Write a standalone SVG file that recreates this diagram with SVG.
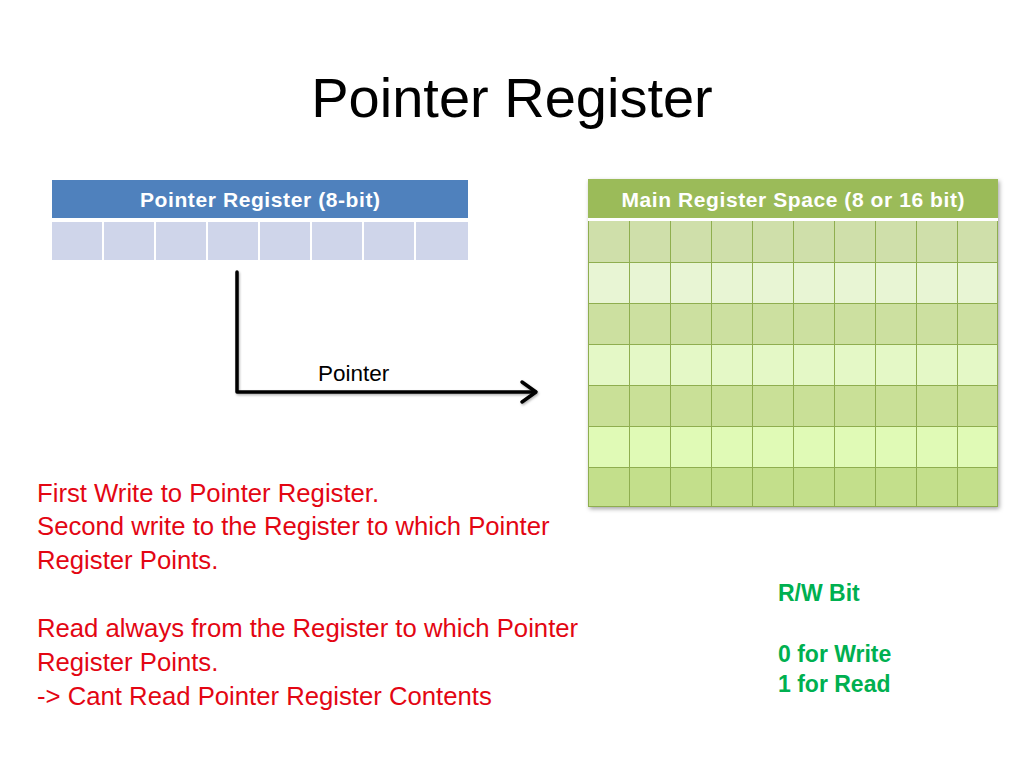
<svg xmlns="http://www.w3.org/2000/svg" width="1024" height="768" viewBox="0 0 1024 768">
<defs>
<style>
.title{font-family:"Liberation Sans",Arial,sans-serif;font-size:56px;fill:#000}
.hdr{font-family:"Liberation Sans",Arial,sans-serif;font-size:21px;font-weight:bold;fill:#fff}
.red{font-family:"Liberation Sans",Arial,sans-serif;font-size:25.7px;fill:#e30613}
.grn{font-family:"Liberation Sans",Arial,sans-serif;font-size:23px;font-weight:bold;fill:#00b050}
.lbl{font-family:"Liberation Sans",Arial,sans-serif;font-size:22.5px;fill:#000}
.pc{fill:#cfd5ea}
.grid{stroke:#8fae4f;stroke-width:1;fill:none}
.conn{stroke:#000;stroke-width:3.5;fill:none;stroke-linecap:round;stroke-linejoin:round}
</style>
<filter id="sh" x="-5%" y="-5%" width="110%" height="110%">
<feDropShadow dx="1.5" dy="2" stdDeviation="2" flood-color="#000" flood-opacity="0.35"/>
</filter>
<filter id="ash" x="-10%" y="-10%" width="120%" height="130%">
<feDropShadow dx="1" dy="1.5" stdDeviation="1" flood-color="#000" flood-opacity="0.3"/>
</filter>
</defs>
<rect width="1024" height="768" fill="#fff"/>
<text class="title" x="512" y="117" text-anchor="middle">Pointer Register</text>

<g id="pointer-register">
<rect x="52" y="180" width="416" height="38" fill="#4f81bd"/>
<text class="hdr" x="260" y="207" text-anchor="middle" textLength="240" lengthAdjust="spacing">Pointer Register (8-bit)</text>
<rect class="pc" x="52" y="222" width="50" height="38"/>
<rect class="pc" x="104" y="222" width="50" height="38"/>
<rect class="pc" x="156" y="222" width="50" height="38"/>
<rect class="pc" x="208" y="222" width="50" height="38"/>
<rect class="pc" x="260" y="222" width="50" height="38"/>
<rect class="pc" x="312" y="222" width="50" height="38"/>
<rect class="pc" x="364" y="222" width="50" height="38"/>
<rect class="pc" x="416" y="222" width="52" height="38"/>
</g>

<g id="main-register-space">
<g filter="url(#sh)">
<rect x="588" y="179" width="410" height="328" fill="#fff"/>
</g>
<rect x="588" y="179" width="410" height="39" fill="#9bbb59"/>
<text class="hdr" x="793" y="207" text-anchor="middle" textLength="343" lengthAdjust="spacing">Main Register Space (8 or 16 bit)</text>
<rect x="588" y="221" width="410" height="41" fill="#cfdfaa"/>
<rect x="588" y="262" width="410" height="41" fill="#e8f5d4"/>
<rect x="588" y="303" width="410" height="41" fill="#cce0a0"/>
<rect x="588" y="344" width="410" height="41" fill="#e4f8c6"/>
<rect x="588" y="385" width="410" height="41" fill="#c9e097"/>
<rect x="588" y="426" width="410" height="41" fill="#e0fab6"/>
<rect x="588" y="467" width="410" height="40" fill="#c3df8b"/>
<path class="grid" d="M588.5,221 V507 M629.5,221 V507 M670.5,221 V507 M711.5,221 V507 M752.5,221 V507 M793.5,221 V507 M834.5,221 V507 M875.5,221 V507 M916.5,221 V507 M957.5,221 V507 M997.5,221 V507 M588,262.5 H998 M588,303.5 H998 M588,344.5 H998 M588,385.5 H998 M588,426.5 H998 M588,467.5 H998 M588,506.5 H998"/>
</g>

<g id="connectors">
<g filter="url(#ash)">
<path class="conn" d="M237,272 V392 H535"/>
<path class="conn" d="M522,382 L536,392 L522,402"/>
</g>
<text class="lbl" x="318" y="381">Pointer</text>
</g>

<g id="notes">
<text class="red" x="37" y="502">First Write to Pointer Register.</text>
<text class="red" x="37" y="535">Second write to the Register to which Pointer</text>
<text class="red" x="37" y="569">Register Points.</text>
<text class="red" x="37" y="637">Read always from the Register to which Pointer</text>
<text class="red" x="37" y="671">Register Points.</text>
<text class="red" x="37" y="705">-&gt; Cant Read Pointer Register Contents</text>
</g>

<g id="rw-bit">
<text class="grn" x="778" y="601">R/W Bit</text>
<text class="grn" x="778" y="662">0 for Write</text>
<text class="grn" x="778" y="692">1 for Read</text>
</g>
</svg>
